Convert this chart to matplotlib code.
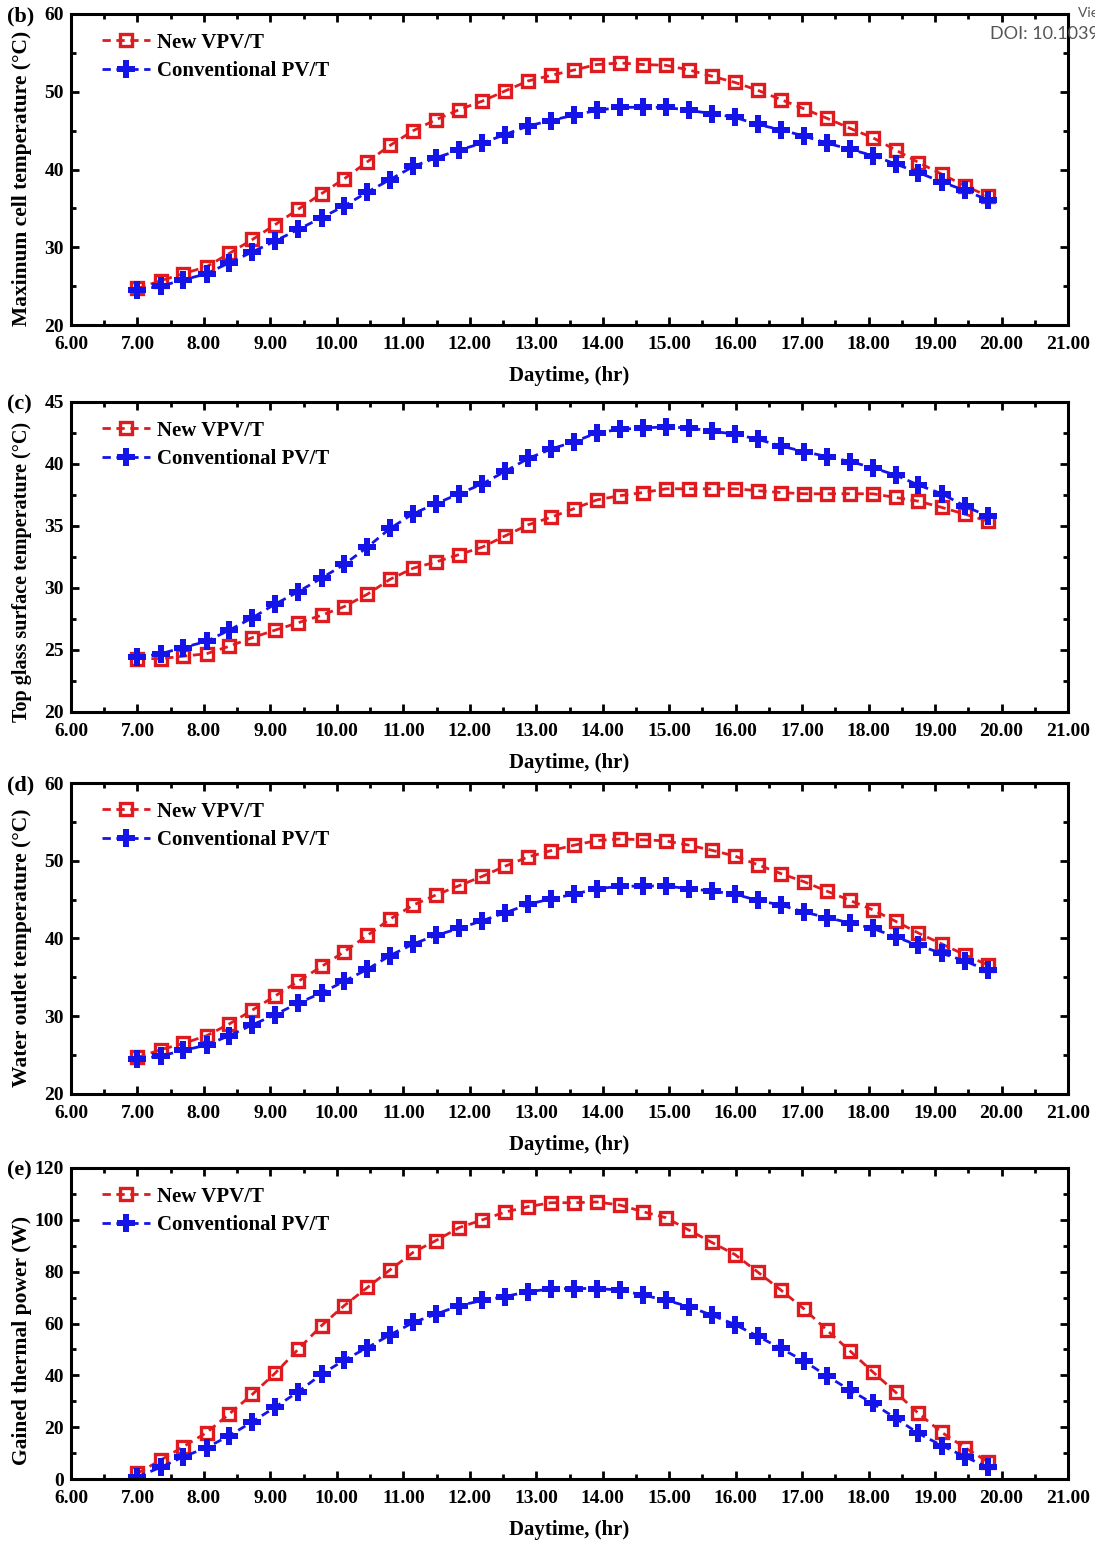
import matplotlib
matplotlib.use("Agg")
import matplotlib.pyplot as plt
from matplotlib.ticker import MultipleLocator, FormatStrFormatter

# --- data (hour of day, 38 samples) ---
hours = [7.00, 7.35, 7.69, 8.04, 8.38, 8.73, 9.07, 9.42, 9.77, 10.11,
         10.46, 10.80, 11.15, 11.49, 11.84, 12.19, 12.53, 12.88, 13.22, 13.57,
         13.91, 14.26, 14.61, 14.95, 15.30, 15.64, 15.99, 16.33, 16.68, 17.03,
         17.37, 17.72, 18.06, 18.41, 18.75, 19.10, 19.45, 19.79]

# (b) maximum cell temperature
cell_new = [24.7, 25.7, 26.6, 27.5, 29.2, 31.0, 32.9, 34.9, 36.9, 38.8,
            41.0, 43.1, 45.0, 46.4, 47.7, 48.8, 50.1, 51.4, 52.1, 52.8,
            53.5, 53.7, 53.5, 53.4, 52.8, 52.0, 51.2, 50.2, 49.0, 47.8,
            46.6, 45.3, 44.1, 42.5, 40.9, 39.4, 37.9, 36.6]
cell_conv = [24.5, 25.0, 25.8, 26.6, 28.0, 29.4, 30.8, 32.3, 33.8, 35.3,
             37.1, 38.7, 40.4, 41.5, 42.5, 43.4, 44.5, 45.6, 46.3, 47.0,
             47.6, 48.0, 48.0, 48.0, 47.6, 47.2, 46.7, 45.8, 45.1, 44.3,
             43.4, 42.6, 41.8, 40.7, 39.6, 38.4, 37.3, 36.1]

# (c) top glass surface temperature
glass_new = [24.3, 24.3, 24.5, 24.7, 25.3, 26.0, 26.6, 27.2, 27.8, 28.5,
             29.5, 30.7, 31.6, 32.1, 32.7, 33.3, 34.2, 35.1, 35.7, 36.4,
             37.1, 37.45, 37.7, 38.0, 38.0, 38.0, 38.0, 37.85, 37.7, 37.6,
             37.6, 37.6, 37.6, 37.3, 37.0, 36.5, 35.95, 35.4]
glass_conv = [24.4, 24.7, 25.2, 25.7, 26.6, 27.6, 28.7, 29.7, 30.8, 31.9,
              33.3, 34.8, 36.0, 36.8, 37.6, 38.4, 39.4, 40.45, 41.2, 41.8,
              42.5, 42.8, 42.9, 43.0, 42.9, 42.65, 42.4, 42.0, 41.45, 41.0,
              40.6, 40.2, 39.7, 39.1, 38.3, 37.6, 36.6, 35.8]

# (d) water outlet temperature
water_new = [24.7, 25.7, 26.5, 27.5, 29.0, 30.8, 32.6, 34.5, 36.4, 38.3,
             40.4, 42.5, 44.3, 45.6, 46.8, 48.0, 49.3, 50.5, 51.3, 52.0,
             52.6, 52.8, 52.7, 52.55, 52.0, 51.35, 50.6, 49.5, 48.35, 47.3,
             46.1, 44.9, 43.7, 42.2, 40.7, 39.3, 37.9, 36.6]
water_conv = [24.5, 24.9, 25.6, 26.3, 27.5, 28.9, 30.2, 31.7, 33.0, 34.5,
              36.05, 37.8, 39.3, 40.4, 41.3, 42.3, 43.3, 44.4, 45.1, 45.7,
              46.4, 46.7, 46.75, 46.75, 46.4, 46.1, 45.7, 44.9, 44.3, 43.4,
              42.7, 42.0, 41.3, 40.2, 39.1, 38.1, 37.1, 35.9]

# (e) gained thermal power
power_new = [2.2, 7.3, 12.5, 17.9, 25.1, 32.7, 40.8, 50.1, 59.2, 66.9,
             73.9, 80.7, 87.5, 92.0, 97.0, 100.0, 103.0, 105.1, 106.6, 106.6,
             106.9, 105.7, 103.1, 100.8, 96.0, 91.3, 86.6, 79.9, 72.9, 65.6,
             57.5, 49.4, 41.4, 33.4, 25.3, 18.0, 12.1, 6.7]
power_conv = [0.9, 4.5, 8.6, 12.1, 16.7, 22.1, 27.7, 33.7, 40.4, 45.9,
              50.7, 55.6, 60.4, 63.6, 66.9, 68.9, 70.4, 72.3, 73.3, 73.5,
              73.5, 72.9, 70.95, 69.0, 66.5, 63.2, 59.6, 55.1, 50.4, 45.5,
              39.8, 34.3, 29.2, 23.4, 17.6, 12.9, 8.6, 4.5]

panels = [
    ("(b)", "Maximum cell temperature (°C)", cell_new, cell_conv, (20, 60), 10, 5),
    ("(c)", "Top glass surface temperature (°C)", glass_new, glass_conv, (20, 45), 5, 2.5),
    ("(d)", "Water outlet temperature (°C)", water_new, water_conv, (20, 60), 10, 5),
    ("(e)", "Gained thermal power (W)", power_new, power_conv, (0, 120), 20, 10),
]

RED = "#e01b20"
BLUE = "#1414e8"

plt.rcParams['font.family'] = ['Liberation Serif', 'DejaVu Serif']
plt.rcParams['font.weight'] = 'bold'

W, H = 1095, 1542
fig = plt.figure(figsize=(W / 100, H / 100), dpi=100)

# axes boxes in pixels: (top, bottom); y label centre (axes fraction) and size
boxes = [(14, 325), (402, 712), (783, 1094), (1168, 1479)]
ylabel_pos = [0.473, 0.452, 0.469, 0.447]
ylabel_size = [15.5, 14.5, 15.5, 15.5]
left_px, right_px = 71, 1068

for (tag, ylab, new, conv, ylim, ymaj, ymin), (top, bot), ly, ls in zip(
        panels, boxes, ylabel_pos, ylabel_size):
    ax = fig.add_axes([left_px / W, 1 - bot / H, (right_px - left_px) / W, (bot - top) / H])
    ax.plot(hours, new, linestyle=(0, (3, 2)), color=RED, linewidth=2,
            marker='s', markersize=8.5, markerfacecolor='none', markeredgewidth=2.4,
            markeredgecolor=RED, label="New VPV/T")
    ax.plot(hours, conv, linestyle=(0, (3, 2)), color=BLUE, linewidth=2,
            marker='P', markersize=12.5, markeredgewidth=0, label="Conventional PV/T")

    ax.set_xlim(6, 21)
    ax.set_ylim(*ylim)
    ax.xaxis.set_major_locator(MultipleLocator(1))
    ax.xaxis.set_minor_locator(MultipleLocator(0.5))
    ax.xaxis.set_major_formatter(FormatStrFormatter('%.2f'))
    ax.yaxis.set_major_locator(MultipleLocator(ymaj))
    ax.yaxis.set_minor_locator(MultipleLocator(ymin))
    ax.tick_params(which='both', direction='in', top=True, right=True, width=2,
                   labelsize=14)
    ax.tick_params(axis='x', pad=8)
    ax.tick_params(axis='y', pad=5)
    ax.tick_params(which='major', length=6)
    ax.tick_params(which='minor', length=3.5)
    for lbl in ax.get_xticklabels() + ax.get_yticklabels():
        lbl.set_fontweight('bold')
    for sp in ax.spines.values():
        sp.set_linewidth(2.2)

    ax.set_xlabel("Daytime, (hr)", fontsize=15, fontweight='bold', labelpad=9)
    ax.set_ylabel(ylab, fontsize=ls, fontweight='bold')
    ax.yaxis.set_label_coords(-0.039, ly)

    ax.legend(loc='upper left', frameon=False, handlelength=2.3,
              handletextpad=0.35, labelspacing=0.4, borderaxespad=0.5,
              bbox_to_anchor=(0.012, 1.0), prop={'weight': 'bold', 'size': 15})

    fig.text(7 / W, 1 - (top + 2) / H, tag, fontsize=16, fontweight='bold',
             ha='left', va='center')

# watermark from the source page (runs off the right edge, as in the source)
fig.text(1078 / W, 1 - 13 / H, "View Article Online", fontsize=10, color='#555555',
         family='Lato', fontweight='normal', ha='left', va='center')
fig.text(990 / W, 1 - 34 / H, "DOI: 10.1039", fontsize=13, color='#555555',
         family='Lato', fontweight='normal', ha='left', va='center')

fig.savefig("out.png", dpi=100)
